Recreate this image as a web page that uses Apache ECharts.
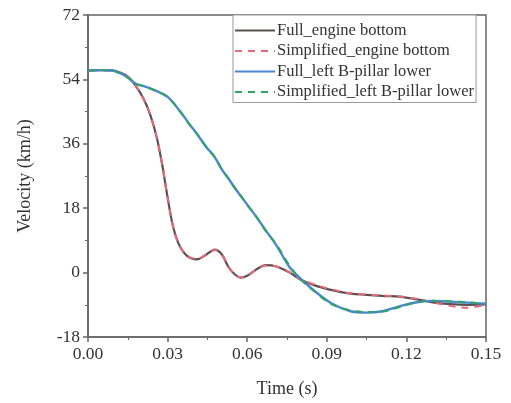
<!DOCTYPE html>
<html><head><meta charset="utf-8">
<script src="https://cdn.jsdelivr.net/npm/echarts@6/dist/echarts.min.js"></script>
<style>html,body{margin:0;padding:0;background:#fff}#c{width:511px;height:403px}</style>
</head><body><div id="c"></div>
<script>
var seriesNames = ['Full_engine bottom','Simplified_engine bottom','Full_left B-pillar lower','Simplified_left B-pillar lower'];
var time = [0,0.005,0.009,0.0125,0.015,0.018,0.021,0.0235,0.026,0.028,0.030,0.032,0.034,0.036,0.038,0.041,0.0445,0.0478,0.0505,0.053,0.0555,0.0575,0.060,0.0635,0.067,0.071,0.076,0.080,0.086,0.092,0.099,0.105,0.111,0.118,0.124,0.130,0.1365,0.143,0.150];
var fullEngine = [56.5,56.6,56.5,55.8,54.8,52.2,48.5,44.0,37.5,30.0,21.0,13.0,8.3,5.7,4.3,3.7,5.0,6.4,5.0,1.5,-0.6,-1.4,-0.9,0.9,2.1,1.7,0.0,-1.9,-3.7,-4.9,-5.9,-6.2,-6.5,-6.8,-7.5,-8.3,-8.8,-9.0,-8.9];
var simpEngine = [56.5,56.6,56.5,55.8,54.8,52.3,48.4,44.1,37.4,30.1,21.0,13.1,8.2,5.7,4.3,3.8,5.0,6.3,5.0,1.6,-0.6,-1.3,-0.9,0.8,2.0,1.7,0.1,-1.8,-3.5,-4.7,-5.8,-6.1,-6.4,-6.7,-7.3,-8.3,-9.3,-9.8,-9.0];
var fullPillar = [56.5,56.6,56.5,55.6,54.5,52.8,52.1,51.5,50.7,50.0,49.1,47.6,45.7,43.8,41.7,38.8,35.2,32.2,28.8,26.2,23.5,21.5,19.0,15.5,11.8,7.6,1.5,-1.6,-5.5,-8.7,-10.8,-11.2,-10.8,-9.3,-8.3,-7.9,-8.1,-8.4,-8.7];
var simpPillar = [56.5,56.6,56.5,55.6,54.5,52.8,52.1,51.4,50.7,50.0,49.1,47.6,45.8,43.8,41.6,38.9,35.1,32.3,28.7,26.3,23.4,21.6,18.9,15.6,11.6,7.9,1.9,-1.8,-5.7,-8.9,-10.6,-11.0,-10.9,-9.5,-8.3,-7.9,-8.0,-8.3,-8.7];
var xTicks = {min:0, max:0.15, interval:0.03};
var yTicks = {min:-18, max:72, interval:18};

function pairs(v){ return time.map(function(t,i){ return [t, v[i]]; }); }
var values = [fullEngine, simpEngine, fullPillar, simpPillar];
var colors = ['#5a5252','#e86a78','#4a86d4','#2fa466'];
var dashes = ['solid',[7,6],'solid',[7,6]];
var widths = [2.2,2,2.4,2];
var font = 'Liberation Serif';

var chart = echarts.init(document.getElementById('c'), null, {renderer:'canvas'});
chart.setOption({
  animation:false,
  backgroundColor:'#fff',
  grid:{left:88, right:25, top:15, bottom:66, show:true, borderColor:'#666', borderWidth:1.5},
  legend:{
    show:true,
    orient:'vertical', left:233, top:15,
    data:seriesNames,
    itemWidth:40, itemHeight:14, itemGap:3.5,
    padding:[7,2,2,1],
    borderColor:'#999', borderWidth:1,
    backgroundColor:'#fff',
    itemStyle:{opacity:0},
    textStyle:{fontFamily:font, fontSize:16.5, color:'#333', padding:[0,0,0,-3]}
  },
  xAxis:{
    type:'value', min:xTicks.min, max:xTicks.max, interval:xTicks.interval,
    name:'Time (s)', nameLocation:'middle', nameGap:43,
    nameTextStyle:{fontFamily:font, fontSize:18, color:'#333'},
    axisLine:{onZero:false, lineStyle:{color:'#666', width:1.5}},
    axisTick:{inside:false, length:5, lineStyle:{color:'#666', width:1.5}},
    minorTick:{show:true, splitNumber:2, length:3, lineStyle:{color:'#666'}},
    axisLabel:{fontFamily:font, fontSize:17.5, color:'#333', margin:8, formatter:function(v){return v.toFixed(2);}},
    splitLine:{show:false}
  },
  yAxis:{
    type:'value', min:yTicks.min, max:yTicks.max, interval:yTicks.interval,
    name:'Velocity (km/h)', nameLocation:'middle', nameGap:54, nameRotate:90,
    nameTextStyle:{fontFamily:font, fontSize:18, color:'#333'},
    axisLine:{onZero:false, lineStyle:{color:'#666', width:1.5}},
    axisTick:{inside:false, length:5, lineStyle:{color:'#666', width:1.5}},
    minorTick:{show:true, splitNumber:2, length:3, lineStyle:{color:'#666'}},
    axisLabel:{fontFamily:font, fontSize:17.5, color:'#333', margin:8},
    splitLine:{show:false}
  },
  series: seriesNames.map(function(n,i){
    return {
      name:n, type:'line', data:pairs(values[i]), smooth:0.35, symbol:'none',
      itemStyle:{color:colors[i]},
      lineStyle:{color:colors[i], width:widths[i], type:dashes[i]},
      z: 2+i
    };
  })
});
</script></body></html>
